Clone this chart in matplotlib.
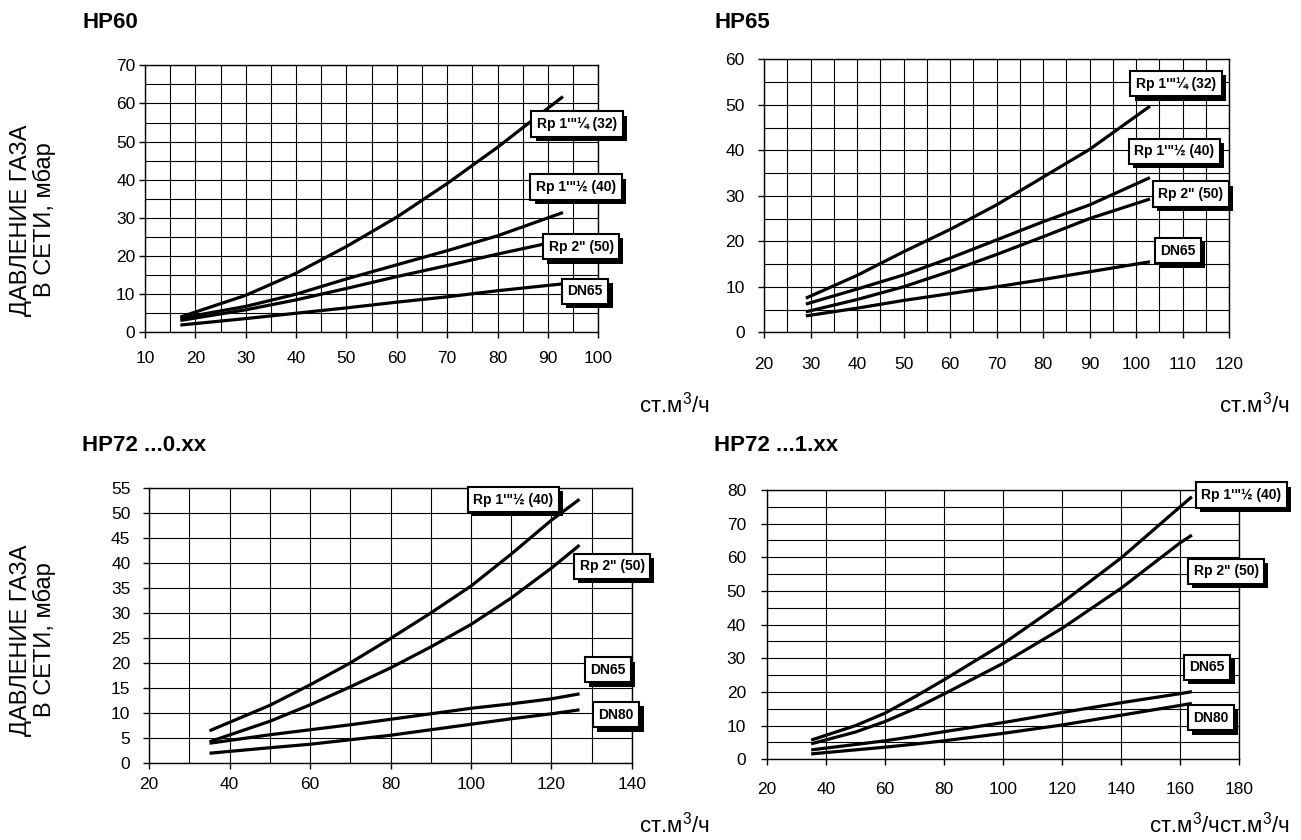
import matplotlib
matplotlib.use("Agg")
import matplotlib.pyplot as plt
from matplotlib import patheffects

plt.rcParams['font.family'] = ['Liberation Sans', 'DejaVu Sans']
plt.rcParams['mathtext.fontset'] = 'custom'
plt.rcParams['mathtext.rm'] = 'Liberation Sans'
plt.rcParams['mathtext.it'] = 'Liberation Sans:italic'

# --- HP60 ---
hp60_x = [17, 30, 40, 50, 60, 70, 80, 93]
hp60_rp32 = [4.0, 9.7, 15.5, 22.5, 30.2, 39.0, 48.5, 61.8]
hp60_rp40 = [3.7, 6.8, 10.0, 14.0, 17.7, 21.4, 25.3, 31.4]
hp60_rp50 = [3.1, 5.9, 8.5, 11.5, 14.6, 17.5, 20.5, 24.2]
hp60_dn65 = [1.9, 3.6, 5.0, 6.4, 7.9, 9.3, 10.9, 12.7]

# --- HP65 ---
hp65_x = [29, 40, 50, 60, 70, 80, 90, 103]
hp65_rp32 = [7.5, 12.5, 17.7, 22.6, 28.0, 34.1, 40.2, 49.7]
hp65_rp40 = [6.2, 9.5, 12.6, 16.3, 20.3, 24.3, 28.0, 34.0]
hp65_rp50 = [4.5, 7.2, 10.0, 13.4, 17.1, 21.0, 25.0, 29.3]
hp65_dn65 = [3.6, 5.3, 7.0, 8.5, 10.0, 11.6, 13.3, 15.5]

# --- HP72 ...0.xx ---
hp720_x = [35, 50, 60, 70, 80, 90, 100, 110, 120, 127]
hp720_rp40 = [6.4, 11.5, 15.6, 20.0, 24.9, 30.0, 35.4, 41.8, 48.6, 52.8]
hp720_rp50 = [4.2, 8.3, 11.6, 15.2, 19.0, 23.2, 27.7, 33.0, 39.0, 43.6]
hp720_dn65 = [3.9, 5.6, 6.6, 7.6, 8.7, 9.8, 10.9, 11.8, 12.8, 13.8]
hp720_dn80 = [1.9, 3.0, 3.7, 4.6, 5.5, 6.6, 7.7, 8.8, 9.8, 10.6]

# --- HP72 ...1.xx ---
hp721_x = [35, 50, 60, 70, 80, 100, 120, 140, 160, 164]
hp721_rp40 = [5.7, 10.0, 13.7, 18.5, 23.6, 34.3, 46.5, 59.8, 75.0, 78.0]
hp721_rp50 = [4.6, 8.1, 11.2, 15.0, 19.4, 28.5, 38.9, 50.8, 64.3, 66.6]
hp721_dn65 = [2.8, 4.4, 5.5, 6.8, 8.2, 10.9, 13.9, 16.8, 19.5, 20.1]
hp721_dn80 = [1.6, 2.8, 3.6, 4.5, 5.5, 7.7, 10.2, 13.1, 16.0, 16.6]

lbl_32 = 'Rp 1\'"¼ (32)'
lbl_40 = 'Rp 1\'"½ (40)'
lbl_50 = 'Rp 2" (50)'
lbl_65 = 'DN65'
lbl_80 = 'DN80'

ylabel = 'ДАВЛЕНИЕ ГАЗА\nВ СЕТИ, мбар'
xlabel = 'ст.м$^3$/ч'

W, H = 1301, 840
fig = plt.figure(figsize=(W / 100, H / 100), dpi=100)


def rect(l, t, r, b):
    return [l / W, 1 - b / H, (r - l) / W, (b - t) / H]


def panel(r, x, series, labels, label_pos, xlim, ylim, xmaj, xgrid, ymaj, ygrid, xpad, ypad):
    ax = fig.add_axes(rect(*r))
    for y in series:
        ax.plot(x, y, color='black', lw=2.3, solid_capstyle='butt', zorder=3)
    ax.set_xlim(*xlim)
    ax.set_ylim(*ylim)
    ax.set_xticks(xmaj)
    ax.set_yticks(ymaj)
    ax.set_xticks(xgrid, minor=True)
    ax.set_yticks(ygrid, minor=True)
    ax.grid(which='both', color='black', lw=0.8, zorder=1)
    ax.set_axisbelow(True)
    ax.tick_params(which='major', direction='out', length=4, width=1, labelsize=12.5)
    ax.tick_params(axis='x', which='major', pad=xpad)
    ax.tick_params(axis='y', which='major', pad=ypad)
    ax.tick_params(which='minor', length=0)
    for s in ax.spines.values():
        s.set_linewidth(1)
    # boxed series labels with a black drop shadow
    for lbl, (lx, ly) in zip(labels, label_pos):
        t = ax.text(lx, ly, lbl, ha='center', va='center', fontsize=10, fontweight='bold',
                    color='black', zorder=6, clip_on=False,
                    bbox=dict(boxstyle='square,pad=0.4', fc='white', ec='black', lw=1.5))
        t.get_bbox_patch().set_path_effects([
            patheffects.SimplePatchShadow(offset=(3, -3), shadow_rgbFace='black', alpha=1.0),
            patheffects.Normal()])
    return ax


panel((145.1, 65.3, 598.2, 332.3), hp60_x,
      [hp60_rp32, hp60_rp40, hp60_rp50, hp60_dn65],
      [lbl_32, lbl_40, lbl_50, lbl_65],
      [(95.8, 54.6), (95.6, 38.1), (96.6, 22.4), (97.4, 10.8)],
      (10, 100), (0, 70), range(10, 101, 10), range(10, 101, 5),
      range(0, 71, 10), range(0, 71, 5), 9.5, 3)

panel((764.0, 59.3, 1229.1, 332.3), hp65_x,
      [hp65_rp32, hp65_rp40, hp65_rp50, hp65_dn65],
      [lbl_32, lbl_40, lbl_50, lbl_65],
      [(108.6, 54.6), (108.2, 39.8), (111.8, 30.4), (109.0, 17.9)],
      (20, 120), (0, 60), range(20, 121, 10), range(20, 121, 5),
      range(0, 61, 10), range(0, 61, 5), 13.5, 10)

panel((149.2, 488.3, 631.8, 762.7), hp720_x,
      [hp720_rp40, hp720_rp50, hp720_dn65, hp720_dn80],
      [lbl_40, lbl_50, lbl_65, lbl_80],
      [(110.5, 52.7), (135.1, 39.4), (134.1, 18.6), (136.1, 9.6)],
      (20, 140), (0, 55), range(20, 141, 20), range(20, 141, 10),
      range(0, 56, 5), range(0, 56, 5), 6.5, 9.5)

panel((766.9, 490.0, 1239.1, 759.3), hp721_x,
      [hp721_rp40, hp721_rp50, hp721_dn65, hp721_dn80],
      [lbl_40, lbl_50, lbl_65, lbl_80],
      [(180.7, 78.5), (175.6, 55.9), (169.2, 27.4), (170.5, 12.3)],
      (20, 180), (0, 80), range(20, 181, 20), range(20, 181, 20),
      range(0, 81, 10), range(0, 81, 5), 12.5, 11)

# titles
for tx, ty, t in [(82, 28, 'HP60'), (714, 28, 'HP65'),
                  (82, 451, 'HP72 ...0.xx'), (714, 451, 'HP72 ...1.xx')]:
    fig.text(tx / W, 1 - ty / H, t, fontsize=16, fontweight='bold', va='baseline', ha='left')

# y labels
for cy in [220, 640]:
    fig.text(33 / W, 1 - cy / H, ylabel, rotation=90, fontsize=17, ha='center', va='center',
             multialignment='center', linespacing=1.0)

# x labels
for rx, by, t in [(710, 413, xlabel), (1290, 413, xlabel),
                  (710, 832, xlabel), (1290, 832, xlabel + xlabel)]:
    fig.text(rx / W, 1 - by / H, t, fontsize=16, ha='right', va='baseline')

fig.savefig('out.png', dpi=100)
